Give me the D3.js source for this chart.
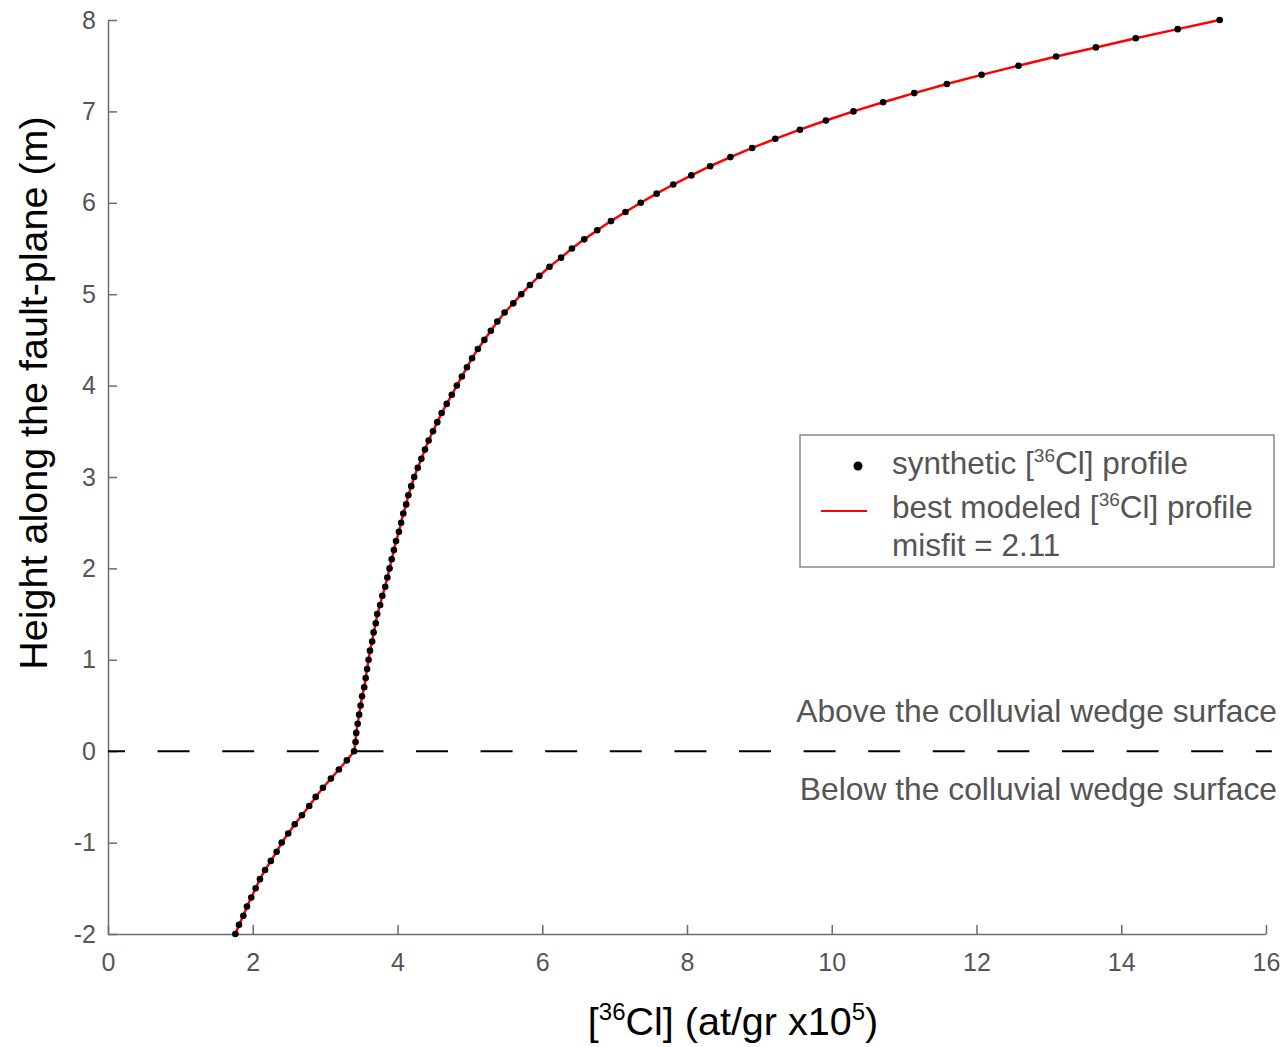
<!DOCTYPE html>
<html>
<head>
<meta charset="utf-8">
<script src="https://cdn.jsdelivr.net/npm/d3@7"></script>
<style>
  html, body { margin: 0; padding: 0; background: #fff; }
  svg { display: block; font-family: "Liberation Sans", Arial, Helvetica, sans-serif; }
</style>
</head>
<body>
<svg id="chart" width="1286" height="1047"></svg>
<script>
// Heights along the fault plane (m)
const heights = [-2.0,-1.9,-1.8,-1.7,-1.6,-1.5,-1.4,-1.3,-1.2,-1.1,-1.0,-0.9,-0.8,-0.7,-0.6,-0.5,-0.4,-0.3,-0.2,-0.1,
  0.0,0.1,0.2,0.3,0.4,0.5,0.6,0.7,0.8,0.9,1.0,1.1,1.2,1.3,1.4,1.5,1.6,1.7,1.8,1.9,
  2.0,2.1,2.2,2.3,2.4,2.5,2.6,2.7,2.8,2.9,3.0,3.1,3.2,3.3,3.4,3.5,3.6,3.7,3.8,3.9,
  4.0,4.1,4.2,4.3,4.4,4.5,4.6,4.7,4.8,4.9,5.0,5.1,5.2,5.3,5.4,5.5,5.6,5.7,5.8,5.9,
  6.0,6.1,6.2,6.3,6.4,6.5,6.6,6.7,6.8,6.9,7.0,7.1,7.2,7.3,7.4,7.5,7.6,7.7,7.8,7.9,8.0];
// Synthetic [36Cl] concentration (at/gr x1e5)
const synthetic = [1.76,1.81,1.87,1.92,1.98,2.04,2.10,2.17,2.25,2.33,2.40,2.49,2.58,2.68,2.78,2.87,2.97,3.08,3.19,3.30,
  3.40,3.42,3.43,3.45,3.47,3.49,3.51,3.54,3.56,3.58,3.60,3.62,3.65,3.67,3.70,3.72,3.76,3.79,3.83,3.86,
  3.89,3.92,3.95,3.98,4.02,4.05,4.08,4.12,4.15,4.19,4.23,4.28,4.33,4.38,4.43,4.49,4.55,4.61,4.68,4.75,
  4.82,4.89,4.96,5.03,5.11,5.20,5.29,5.38,5.48,5.60,5.71,5.83,5.96,6.10,6.26,6.41,6.58,6.76,6.95,7.15,
  7.36,7.58,7.81,8.06,8.32,8.60,8.90,9.22,9.56,9.92,10.30,10.71,11.14,11.59,12.07,12.58,13.10,13.65,14.20,14.78,15.36];
// Best modeled profile (follows the synthetic profile)
const modeled = synthetic.slice();
const xTicks = [0,2,4,6,8,10,12,14,16];
const yTicks = [-2,-1,0,1,2,3,4,5,6,7,8];
const legendLabels = ["synthetic [36Cl] profile", "best modeled [36Cl] profile", "misfit = 2.11"];

const svg = d3.select("#chart");
const x = d3.scaleLinear().domain([0,16]).range([108,1266]);
const y = d3.scaleLinear().domain([-2,8]).range([934,20]);
const axisCol = "#6b6b6b", tickTextCol = "#555555";
const fmt = d => String(d).replace("\u2212", "-");

// Axes
const gx = svg.append("g").attr("transform", `translate(0,${y(-2)})`)
  .call(d3.axisBottom(x).tickValues(xTicks).tickSizeInner(-9).tickSizeOuter(0).tickPadding(19).tickFormat(fmt));
const gy = svg.append("g").attr("transform", `translate(${x(0)},0)`)
  .call(d3.axisLeft(y).tickValues(yTicks).tickSizeInner(-9).tickSizeOuter(0).tickPadding(12).tickFormat(fmt));
[gx, gy].forEach(g => {
  g.select(".domain").attr("stroke", axisCol).attr("stroke-width", 1.5);
  g.selectAll(".tick line").attr("stroke", axisCol).attr("stroke-width", 1.5);
  g.selectAll(".tick text").attr("fill", tickTextCol).style("font-size", "25px");
});
gx.selectAll(".tick text").attr("dy", "0.71em");

// Zero dashed line
svg.append("line")
  .attr("x1", x(0)).attr("x2", x(16.08)).attr("y1", y(0)).attr("y2", y(0))
  .attr("stroke", "#000").attr("stroke-width", 2)
  .attr("stroke-dasharray", "32,32.6").attr("stroke-dashoffset", 15);

// Modeled line
const pts = heights.map((h,i) => [modeled[i], h]);
svg.append("path").datum(pts)
  .attr("fill", "none").attr("stroke", "#ff0000").attr("stroke-width", 2.5)
  .attr("d", d3.line().x(d => x(d[0])).y(d => y(d[1])));

// Synthetic dots
svg.append("g").selectAll("circle").data(heights.map((h,i) => [synthetic[i], h])).join("circle")
  .attr("cx", d => x(d[0])).attr("cy", d => y(d[1])).attr("r", 3.3).attr("fill", "#000");

// Surface annotations
svg.append("text").attr("x", 1277).attr("y", 722).attr("text-anchor", "end")
  .attr("fill", "#555").style("font-size", "31.8px").text("Above the colluvial wedge surface");
svg.append("text").attr("x", 1277).attr("y", 800).attr("text-anchor", "end")
  .attr("fill", "#555").style("font-size", "31.8px").text("Below the colluvial wedge surface");

// Axis labels
const xl = svg.append("text").attr("x", 733).attr("y", 1035).attr("text-anchor", "middle")
  .attr("fill", "#000").style("font-size", "39.5px");
xl.append("tspan").text("[");
xl.append("tspan").attr("dy", -15).style("font-size", "24px").text("36");
xl.append("tspan").attr("dy", 15).text("Cl] (at/gr x10");
xl.append("tspan").attr("dy", -15).style("font-size", "24px").text("5");
xl.append("tspan").attr("dy", 15).text(")");

svg.append("text").attr("transform", "translate(47,393) rotate(-90)").attr("text-anchor", "middle")
  .attr("fill", "#000").style("font-size", "39.5px").text("Height along the fault-plane (m)");

// Legend
const lg = svg.append("g");
lg.append("rect").attr("x", 800).attr("y", 435).attr("width", 474).attr("height", 132)
  .attr("fill", "#fff").attr("stroke", "#888").attr("stroke-width", 1.5);
lg.append("circle").attr("cx", 858).attr("cy", 466).attr("r", 4.5).attr("fill", "#000");
lg.append("line").attr("x1", 821).attr("x2", 867).attr("y1", 511).attr("y2", 511)
  .attr("stroke", "#ff0000").attr("stroke-width", 2);
function supLabel(g, xx, yy, txt) {
  const t = g.append("text").attr("x", xx).attr("y", yy).attr("fill", "#555").style("font-size", "31.5px");
  const m = txt.match(/^(.*\[)36(Cl\].*)$/);
  if (m) {
    t.append("tspan").text(m[1]);
    t.append("tspan").attr("dy", -12).style("font-size", "19px").text("36");
    t.append("tspan").attr("dy", 12).text(m[2]);
  } else t.text(txt);
}
supLabel(lg, 892, 474, legendLabels[0]);
supLabel(lg, 892, 518, legendLabels[1]);
supLabel(lg, 892, 556, legendLabels[2]);
</script>
</body>
</html>
